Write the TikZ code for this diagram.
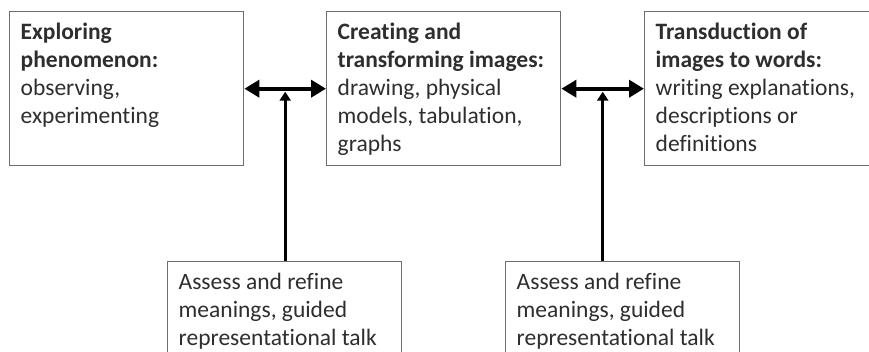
\documentclass[tikz,border=0pt]{standalone}
\usepackage{fontspec}
\setmainfont[Ligatures=NoCommon]{Carlito}
\usetikzlibrary{arrows.meta,calc}
\definecolor{inkgrey}{HTML}{2E2E2E}
\definecolor{framegrey}{HTML}{6E6E6E}
\tikzset{
  stage/.style={draw=framegrey, line width=1.4pt, fill=white, anchor=north west,
    inner xsep=11pt, inner ysep=11pt, text=inkgrey,
    font=\fontsize{23.5pt}{28pt}\selectfont},
  linkarrow/.style={line width=4pt, {Triangle[length=15pt,width=17pt]}-{Triangle[length=15pt,width=17pt]}},
  feedarrow/.style={line width=3pt, -{Triangle[length=9pt,width=11pt]}}
}
\newcommand{\stagetext}[2]{\parbox[t][#1][t]{212pt}{\raggedright #2}}
\begin{document}
\begin{tikzpicture}[x=1pt,y=-1pt]
  \useasboundingbox (0,0) rectangle (869,352);
  % three stages along the top
  \node[stage] (b1) at (9,11)
    {\stagetext{132pt}{\textbf{Exploring}\\ \textbf{phenomenon:}\\ observing,\\ experimenting}};
  \node[stage] (b2) at (326,11)
    {\stagetext{132pt}{\textbf{Creating and}\\ \textbf{transforming images:}\\ drawing, physical\\ models, tabulation,\\ graphs}};
  \node[stage] (b3) at (644,11)
    {\stagetext{132pt}{\textbf{Transduction of}\\ \textbf{images to words:}\\ writing explanations,\\ descriptions or\\ definitions}};
  % supporting talk, below
  \node[stage] (b4) at (167,261)
    {\stagetext{110pt}{Assess and refine\\ meanings, guided\\ representational talk}};
  \node[stage] (b5) at (505,261)
    {\stagetext{110pt}{Assess and refine\\ meanings, guided\\ representational talk}};
  % two-way links between stages
  \draw[linkarrow] (b1.east) -- (b2.west);
  \draw[linkarrow] (b2.east) -- (b3.west);
  \coordinate (m1) at ($(b1.east)!0.5!(b2.west)$);
  \coordinate (m2) at ($(b2.east)!0.5!(b3.west)$);
  % talk feeding into each link
  \draw[feedarrow] (m1 |- b4.north) -- ([yshift=-3pt]m1);
  \draw[feedarrow] (m2 |- b5.north) -- ([yshift=-3pt]m2);
\end{tikzpicture}
\end{document}
